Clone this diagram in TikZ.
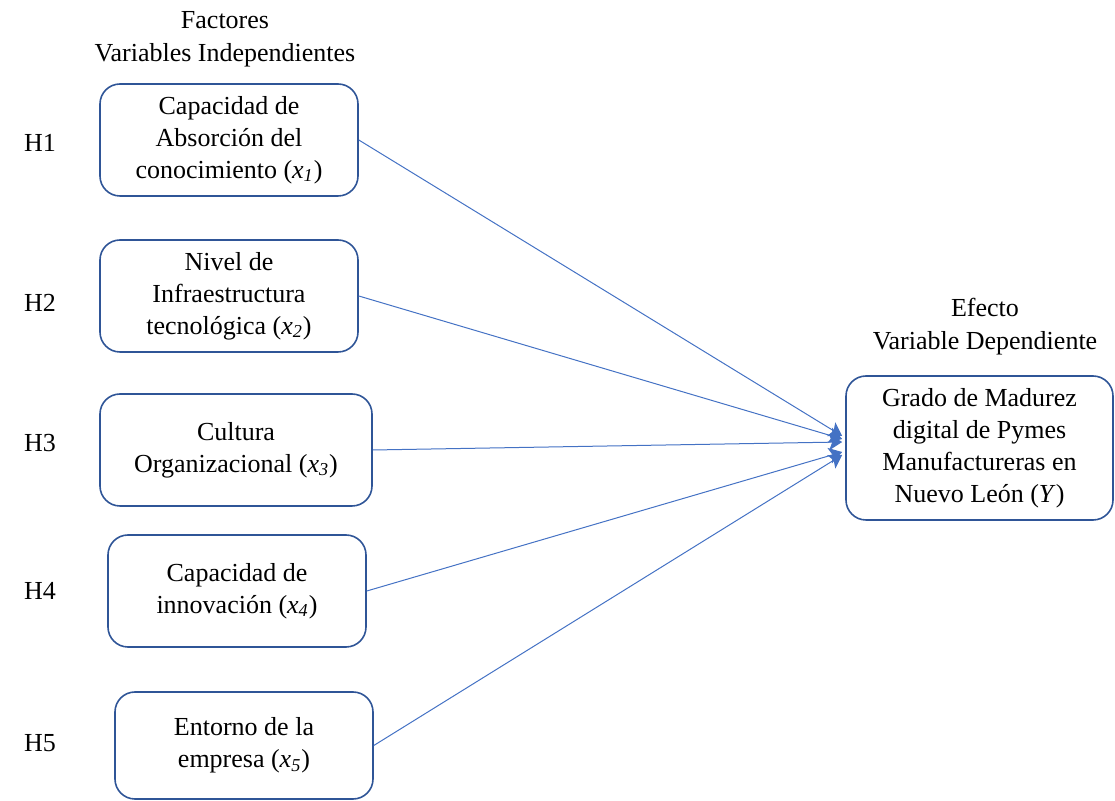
\documentclass[tikz,border=0pt]{standalone}
\usepackage{fontspec}
\setmainfont{Liberation Serif}
\usetikzlibrary{arrows.meta, positioning}
\definecolor{boxblue}{RGB}{47,85,151}
\definecolor{lineblue}{RGB}{68,114,196}

\begin{document}
\begin{tikzpicture}[
  x=0.5pt, y=-0.5pt,
  box/.style={draw=boxblue, line width=0.8pt, rounded corners=10pt,
              minimum width=129pt, minimum height=56pt,
              align=center, font=\fontsize{13}{16}\selectfont},
  arrow/.style={-{Stealth[length=6.5pt, width=8pt, inset=1.5pt]}, lineblue, line width=0.5pt},
  lbl/.style={align=center, font=\fontsize{13}{16.5}\selectfont},
  hyp/.style={font=\fontsize{13}{16}\selectfont}
]
  \useasboundingbox (0,0) rectangle (1115,801);

  % headings
  \node[lbl] (fac) at (225,39) {Factores\\Variables Independientes};
  \node[lbl] (efe) at (985,327) {Efecto\\Variable Dependiente};

  % independent variables
  \node[box] (cap) at (229,140) {Capacidad de\\Absorción del\\conocimiento (\textit{x\textsubscript{1}})};
  \node[box] (inf) at (229,296) {Nivel de\\Infraestructura\\tecnológica (\textit{x\textsubscript{2}})};
  \node[box, minimum width=136pt] (cul) at (236,450) {Cultura\\Organizacional (\textit{x\textsubscript{3}})};
  \node[box] (inn) at (237,591) {Capacidad de\\innovación (\textit{x\textsubscript{4}})};
  \node[box, minimum height=53.5pt] (ent) at (244,745.5) {Entorno de la\\empresa (\textit{x\textsubscript{5}})};

  % dependent variable
  \node[box, minimum width=133.5pt, minimum height=72pt] (gra) at (979.5,448)
    {Grado de Madurez\\digital de Pymes\\Manufactureras en\\Nuevo León (\textit{Y})};

  % hypotheses
  \node[hyp] (h1) at (40,143) {H1};
  \node[hyp] (h2) at (40,303) {H2};
  \node[hyp] (h3) at (40,443) {H3};
  \node[hyp] (h4) at (40,591) {H4};
  \node[hyp] (h5) at (40,743) {H5};

  \draw[arrow] (cap.east) -- ([xshift=-1.5pt, yshift=6pt]gra.west);
  \draw[arrow] (inf.east) -- ([xshift=-1.5pt, yshift=4.5pt]gra.west);
  \draw[arrow] (cul.east) -- ([xshift=-1.5pt, yshift=3pt]gra.west);
  \draw[arrow] (inn.east) -- ([xshift=-1.5pt, yshift=-2pt]gra.west);
  \draw[arrow] (ent.east) -- ([xshift=-1.5pt, yshift=-3.5pt]gra.west);

\end{tikzpicture}
\end{document}
